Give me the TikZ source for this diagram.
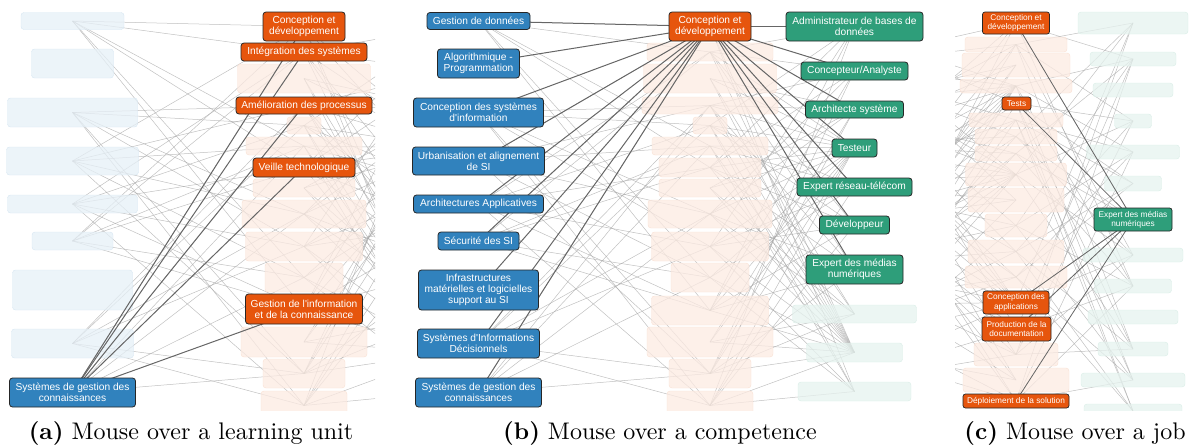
\documentclass[tikz,border=0pt]{standalone}
\usepackage{fontspec}
\newfontfamily\boxfont{Liberation Sans}
\definecolor{unitblue}{HTML}{3182BD}
\definecolor{compred}{HTML}{E6550D}
\definecolor{jobgreen}{HTML}{2E9E7A}
\pgfdeclarelayer{edges}
\pgfdeclarelayer{fade}
\pgfdeclarelayer{links}
\pgfsetlayers{edges,fade,links,main}

\begin{document}
\begin{tikzpicture}[
  x=1pt,y=-1pt,
  every node/.style={align=center},
  unit/.style={draw=black!85,line width=0.8pt,fill=unitblue,rounded corners=3pt,text=white,inner sep=2pt,
    font=\boxfont\fontsize{10.2}{11}\selectfont},
  comp/.style={unit,fill=compred},
  job/.style={unit,fill=jobgreen},
  smallbox/.style={line width=0.7pt,rounded corners=2.5pt,font=\boxfont\fontsize{8.3}{9.3}\selectfont},
  fadeu/.style={draw=unitblue!20,fill=unitblue!12,fill opacity=0.75,rounded corners=3pt,inner sep=0pt},
  fadec/.style={fadeu,draw=compred!18,fill=compred!12},
  fadej/.style={fadeu,draw=jobgreen!18,fill=jobgreen!12},
  faint/.style={black!35,line width=0.5pt,opacity=0.7},
  link/.style={black!60,line width=1pt},
  subcap/.style={scale=2.4,font=\normalsize}
]
\useasboundingbox (0,0) rectangle (1195,447);

% ============================================================
% (a) Mouse over a learning unit
% ============================================================

\node[unit,minimum width=126pt,minimum height=29pt] (ua9) at (72.5,392.5) {Systèmes de gestion des\\connaissances};

\node[comp,minimum width=82pt,minimum height=29pt] (ca1) at (304,26.5) {Conception et\\développement};
\node[comp,minimum width=126pt,minimum height=18pt] (ca2) at (304,52) {Intégration des systèmes};
\node[comp,minimum width=136pt,minimum height=17pt] (ca4) at (304,105.5) {Amélioration des processus};
\node[comp,minimum width=102pt,minimum height=19pt] (ca7) at (304,167.5) {Veille technologique};
\node[comp,minimum width=117pt,minimum height=30pt] (ca12) at (304,309) {Gestion de l'information\\et de la connaissance};

\begin{pgfonlayer}{fade}
\begin{scope}
\clip (0,0) rectangle (375,410);
\foreach \n/\y/\w/\h in {1/21/103/17,2/63.5/82/29,3/112.5/130/29,4/161/132/28,
                         5/204/130/18,6/241/81/18,7/290/120/40,8/343.5/122/29}
  \node[fadeu,minimum width=\w pt,minimum height=\h pt] (ua\n) at (72.5,\y) {};
\foreach \n/\y/\w/\h in {3/78.5/133/29,5/125.5/34/17,6/146/116/18,8/188/102/18,9/214/124/28,
                         10/246.5/117/29,11/277.5/78/29,13/342/126/30,14/373.5/82/29,15/405.5/86/29}
  \node[fadec,minimum width=\w pt,minimum height=\h pt] (ca\n) at (304,\y) {};
\end{scope}
\end{pgfonlayer}

% jobs column lies beyond the crop
\foreach \k/\y in {1/26.5,2/71,3/109.5,4/148,5/187,6/225,7/269.5,8/314,9/352.5,10/391.5}
  \coordinate (ja\k) at (448.5,\y);

\begin{pgfonlayer}{links}
\foreach \j in {1,2,4,7,12}
  \draw[link] (ua9.center) -- (ca\j.center);
\end{pgfonlayer}

\node[subcap] (capa) at (191,433) {\textbf{(a)} Mouse over a learning unit};

% ============================================================
% (b) Mouse over a competence
% ============================================================

\node[unit,minimum width=103pt,minimum height=17pt] (ub1) at (478.5,21) {Gestion de données};
\node[unit,minimum width=82pt,minimum height=29pt] (ub2) at (478.5,63.5) {Algorithmique -\\Programmation};
\node[unit,minimum width=130pt,minimum height=29pt] (ub3) at (478.5,112.5) {Conception des systèmes\\d'information};
\node[unit,minimum width=132pt,minimum height=28pt] (ub4) at (478.5,161) {Urbanisation et alignement\\de SI};
\node[unit,minimum width=130pt,minimum height=18pt] (ub5) at (478.5,204) {Architectures Applicatives};
\node[unit,minimum width=81pt,minimum height=18pt] (ub6) at (478.5,241) {Sécurité des SI};
\node[unit,minimum width=120pt,minimum height=40pt] (ub7) at (478.5,290) {Infrastructures\\matérielles et logicielles\\support au SI};
\node[unit,minimum width=122pt,minimum height=29pt] (ub8) at (478.5,343.5) {Systèmes d'Informations\\Décisionnels};
\node[unit,minimum width=126pt,minimum height=29pt] (ub9) at (478.5,392.5) {Systèmes de gestion des\\connaissances};

\node[comp,minimum width=82pt,minimum height=29pt] (cb1) at (710,26.5) {Conception et\\développement};

\node[job,minimum width=137pt,minimum height=29pt] (jb1) at (854.5,26.5) {Administrateur de bases de\\données};
\node[job,minimum width=107pt,minimum height=18pt] (jb2) at (854.5,71) {Concepteur/Analyste};
\node[job,minimum width=98pt,minimum height=17pt] (jb3) at (854.5,109.5) {Architecte système};
\node[job,minimum width=45pt,minimum height=18pt] (jb4) at (854.5,148) {Testeur};
\node[job,minimum width=115pt,minimum height=18pt] (jb5) at (854.5,187) {Expert réseau-télécom};
\node[job,minimum width=70pt,minimum height=18pt] (jb6) at (854.5,225) {Développeur};
\node[job,minimum width=97pt,minimum height=29pt] (jb7) at (854.5,269.5) {Expert des médias\\numériques};

\begin{pgfonlayer}{fade}
\begin{scope}
\clip (400,0) rectangle (940,410);
\foreach \n/\y/\w/\h in {2/52/126/18,3/78.5/133/29,4/105.5/136/17,5/125.5/34/17,6/146/116/18,
                         7/167.5/102/19,8/188/102/18,9/214/124/28,10/246.5/117/29,11/277.5/78/29,
                         12/310.5/117/29,13/342/126/30,14/373.5/82/29,15/405.5/86/29}
  \node[fadec,minimum width=\w pt,minimum height=\h pt] (cb\n) at (710,\y) {};
\foreach \n/\y/\w/\h in {8/314/124/18,9/352.5/96/19,10/391.5/113/19}
  \node[fadej,minimum width=\w pt,minimum height=\h pt] (jb\n) at (854.5,\y) {};
\end{scope}
\end{pgfonlayer}

\begin{pgfonlayer}{links}
\foreach \i in {1,...,9}
  \draw[link] (ub\i.center) -- (cb1.center);
\foreach \k in {1,...,7}
  \draw[link] (cb1.center) -- (jb\k.center);
\end{pgfonlayer}

\node[subcap] (capb) at (660,433) {\textbf{(b)} Mouse over a competence};

% background mesh of (a) and (b)
\begin{pgfonlayer}{edges}
\foreach \p/\xl/\xr in {a/0/375,b/400/940} {
  \begin{scope}
  \clip (\xl,0) rectangle (\xr,410);
  \foreach \i in {1,...,9}
    \foreach \j in {1,...,15} {
      \pgfmathtruncatemacro\pick{mod(\i*\j+2*\i+3*\j,5)}
      \ifnum\pick<2 \draw[faint] (u\p\i.center) -- (c\p\j.center); \fi
    }
  \foreach \j in {1,...,15}
    \foreach \k in {1,...,10} {
      \pgfmathtruncatemacro\pick{mod(\j*\k+\k*\k+\j,5)}
      \ifnum\pick<2 \draw[faint] (c\p\j.center) -- (j\p\k.center); \fi
    }
  \end{scope}
}
\end{pgfonlayer}

% ============================================================
% (c) Mouse over a job
% ============================================================

\node[comp,smallbox,minimum width=67pt,minimum height=22pt] (cc1) at (1016,23) {Conception et\\développement};
\node[comp,smallbox,minimum width=29pt,minimum height=13pt] (cc5) at (1016.5,103.5) {Tests};
\node[comp,smallbox,minimum width=66pt,minimum height=23pt] (cc14) at (1016,302.5) {Conception des\\applications};
\node[comp,smallbox,minimum width=69pt,minimum height=24pt] (cc15) at (1016.5,329) {Production de la\\documentation};
\node[comp,smallbox,minimum width=106pt,minimum height=14pt] (cc18) at (1016,401) {Déploiement de la solution};

\node[job,smallbox,minimum width=78pt,minimum height=23pt] (jc7) at (1133,219.5) {Expert des médias\\numériques};

\begin{pgfonlayer}{fade}
\begin{scope}
\clip (955,0) rectangle (1195,410);
\foreach \n/\y/\w/\h in {2/44.5/102/15,3/65/108/24,4/86/112/14,6/120/94/14,7/136.5/82/15,
                         8/153.5/82/15,9/174.5/101/23,10/200/96/24,11/225.5/62/23,12/251.5/96/23,
                         13/277/102/22,16/354.5/84/23,17/380/106/24}
  \node[fadec,minimum width=\w pt,minimum height=\h pt] (cc\n) at (1016,\y) {};
\foreach \n/\y/\w/\h in {1/23/110/22,2/59/86/14,3/90/80/14,4/121/37/14,5/152/93/14,6/183.5/57/15,
                         8/255/100/14,9/286/77/14,10/317/90/14,11/349/70/14,12/380/104/14,13/411/98/14}
  \node[fadej,minimum width=\w pt,minimum height=\h pt] (jc\n) at (1133,\y) {};
\end{scope}
\end{pgfonlayer}

% learning units column lies beyond the crop
\foreach \k in {1,...,10}
  \coordinate (uc\k) at (830,{40*\k-15});

\begin{pgfonlayer}{edges}
\begin{scope}
\clip (955,0) rectangle (1195,410);
\foreach \i in {1,...,10}
  \foreach \j in {1,...,18} {
    \pgfmathtruncatemacro\pick{mod(\i*\j+\j*\j+\i,5)}
    \ifnum\pick<2 \draw[faint] (uc\i.center) -- (cc\j.center); \fi
  }
\foreach \j in {1,...,18}
  \foreach \k in {1,...,13} {
    \pgfmathtruncatemacro\pick{mod(2*\j*\k+\j+\k,7)}
    \ifnum\pick<2 \draw[faint] (cc\j.center) -- (jc\k.center); \fi
  }
\end{scope}
\end{pgfonlayer}

\begin{pgfonlayer}{links}
\foreach \j in {1,5,14,15,18}
  \draw[link,line width=0.8pt] (jc7.center) -- (cc\j.center);
\end{pgfonlayer}

\node[subcap] (capc) at (1075,433) {\textbf{(c)} Mouse over a job};

\end{tikzpicture}
\end{document}
